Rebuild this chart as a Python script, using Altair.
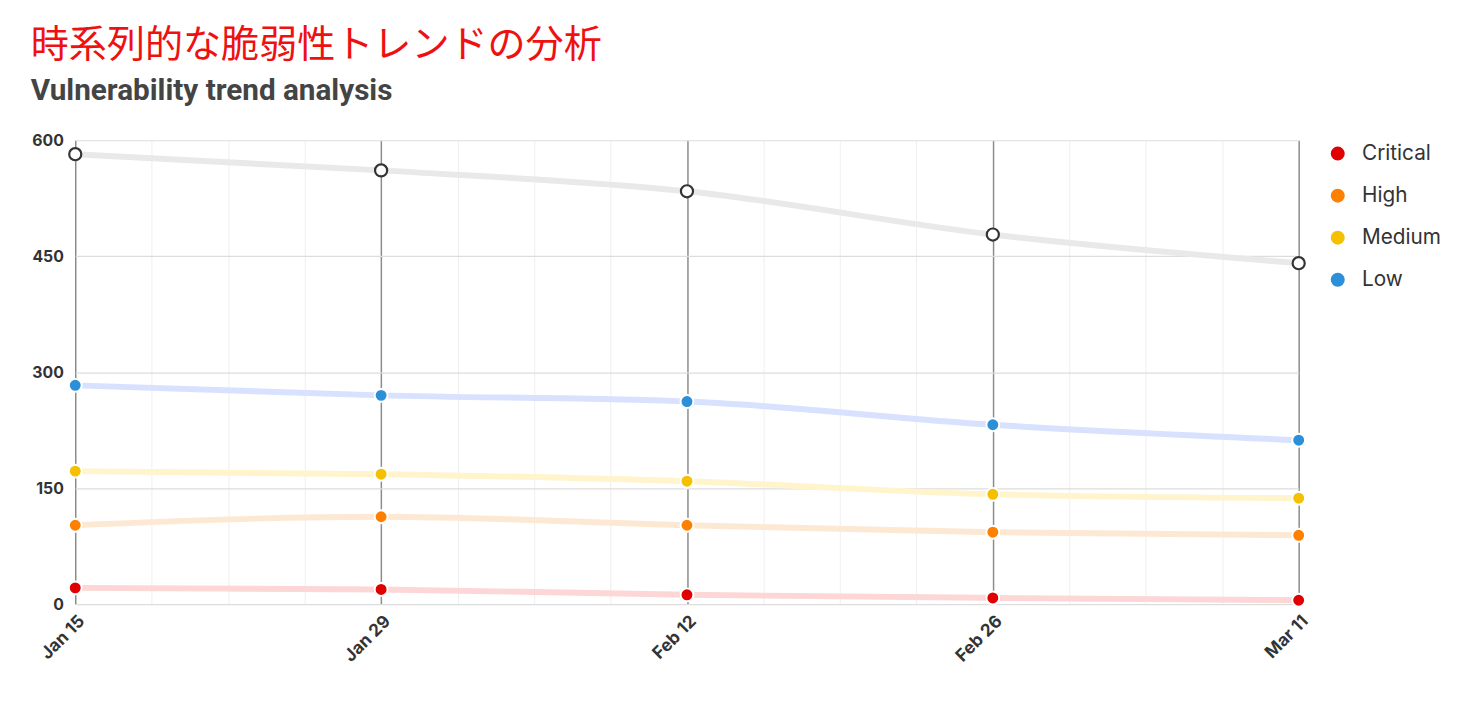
import json
import altair as alt
import pandas as pd

# ---- data ----
dates = ["Jan 15", "Jan 29", "Feb 12", "Feb 26", "Mar 11"]
series_names = ["Critical", "High", "Medium", "Low"]
critical = [21, 19, 12, 8, 5]
high = [102, 113, 102, 93, 89]
medium = [172, 168, 159, 142, 137]
low = [283, 270, 262, 232, 212]
total = [582, 561, 534, 478, 441]

point_colors = ["#e00000", "#ff8000", "#f5c000", "#2b8fd9"]
line_colors = ["#fdd6d6", "#fde9d3", "#fff4cc", "#d8e2ff"]

rows = []
for name, vals in zip(series_names, [critical, high, medium, low]):
    for i, (d, v) in enumerate(zip(dates, vals)):
        rows.append({"idx": i, "date": d, "series": name, "trend": name, "value": v})
df = pd.DataFrame(rows)
df_total = pd.DataFrame({"idx": list(range(len(dates))), "date": dates, "value": total})

label_expr = "datum.value % 1 === 0 ? " + json.dumps(dates) + "[datum.value] : ''"

x_enc = alt.X(
    "idx:Q",
    scale=alt.Scale(domain=[0, len(dates) - 1], nice=False, zero=False),
    axis=alt.Axis(
        title=None,
        values=[i / 4 for i in range(4 * (len(dates) - 1) + 1)],
        labelExpr=label_expr,
        labelAngle=-45,
        labelFont="Inter",
        labelFontWeight="bold",
        labelFontSize=17.5,
        labelColor="#333333",
        labelPadding=8,
        ticks=False,
        domain=False,
        grid=True,
        gridColor={"condition": {"test": "datum.value % 1 === 0", "value": "#8c8c8c"}, "value": "#efefef"},
        gridWidth={"condition": {"test": "datum.value % 1 === 0", "value": 1.5}, "value": 1},
    ),
)
y_enc = alt.Y(
    "value:Q",
    scale=alt.Scale(domain=[0, 600], nice=False),
    axis=alt.Axis(
        title=None,
        values=[0, 150, 300, 450, 600],
        labelFont="Inter",
        labelFontWeight="bold",
        labelFontSize=16,
        labelColor="#333333",
        labelPadding=12,
        ticks=False,
        domain=False,
        grid=True,
        gridColor="#dddddd",
        gridWidth=1.2,
    ),
)

total_line = alt.Chart(df_total).mark_line(
    interpolate="monotone", strokeWidth=6, color="#e9e9e9"
).encode(x=x_enc, y=y_enc)

total_pts = alt.Chart(df_total).mark_point(
    shape="circle", filled=False, fill="white", stroke="#333333", strokeWidth=2.2, size=150, opacity=1
).encode(x=x_enc, y=y_enc)

sev_lines = alt.Chart(df).mark_line(interpolate="monotone", strokeWidth=6).encode(
    x=x_enc,
    y=y_enc,
    stroke=alt.Stroke("trend:N", scale=alt.Scale(domain=series_names, range=line_colors), legend=None),
    detail="trend:N",
)

sev_pts = alt.Chart(df).mark_point(
    shape="circle", filled=True, stroke="white", strokeWidth=2, size=170, opacity=1
).encode(
    x=x_enc,
    y=y_enc,
    fill=alt.Fill(
        "series:N",
        scale=alt.Scale(domain=series_names, range=point_colors),
        legend=alt.Legend(
            title=None,
            orient="right",
            offset=14,
            symbolType="circle",
            symbolSize=200,
            symbolStrokeWidth=0,
            symbolOpacity=1,
            labelFont="Inter",
            labelFontSize=21,
            labelColor="#333333",
            labelOffset=14,
            rowPadding=20.5,
            padding=3,
        ),
    ),
)

chart = (
    alt.layer(total_line, sev_lines, total_pts, sev_pts)
    .resolve_legend(fill="independent", stroke="independent")
    .properties(
        width=1237,
        height=469,
        padding={"left": 23, "top": 14, "right": 6, "bottom": 10},
        title=alt.TitleParams(
            text="時系列的な脆弱性トレンドの分析",
            subtitle="Vulnerability trend analysis",
            anchor="start",
            frame="bounds",
            dx=-1,
            font="Noto Sans CJK JP",
            fontSize=38.5,
            fontWeight="normal",
            color="#ee1111",
            subtitleFont="Roboto",
            subtitleFontWeight="bold",
            subtitleFontSize=30,
            subtitleColor="#444444",
            subtitlePadding=11,
            offset=26,
        ),
    )
    .configure_view(stroke=None)
)

chart.save("out.html", embed_options={"renderer": "svg", "actions": False})
